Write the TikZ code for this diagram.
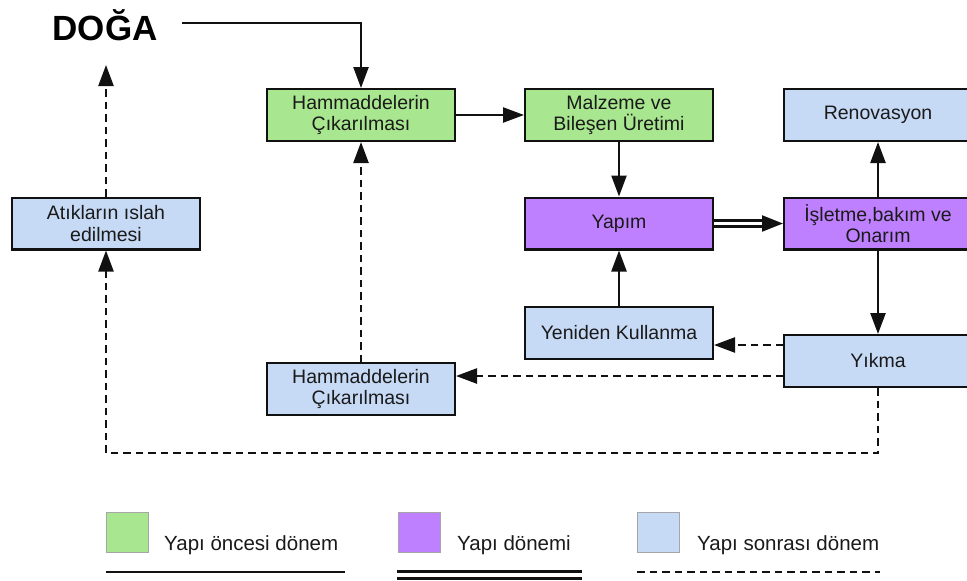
\documentclass[tikz,border=0pt]{standalone}
\usepackage{fontspec}
\setmainfont{Liberation Sans}
\usetikzlibrary{arrows.meta,calc}
\definecolor{pregreen}{HTML}{A8E690}
\definecolor{buildpurple}{HTML}{BF80FF}
\definecolor{postblue}{HTML}{C6D9F5}
\definecolor{edgecol}{HTML}{111111}
\definecolor{txtcol}{HTML}{1A1A1A}
\begin{document}
\begin{tikzpicture}[x=1pt,y=-1pt,
  box/.style={draw=edgecol, line width=2.4pt, minimum width=187.6pt, minimum height=51.6pt,
    inner sep=0pt, align=center, text=txtcol, font=\fontsize{19.5}{21.5}\selectfont},
  greenbox/.style={box, fill=pregreen},
  purplebox/.style={box, fill=buildpurple},
  bluebox/.style={box, fill=postblue},
  arr/.style={line width=2.4pt, draw=edgecol, -{Triangle[length=21pt,width=15pt]}},
  dasharr/.style={arr, dash pattern=on 7.5pt off 5pt},
  swatch/.style={draw=black!35, line width=0.8pt, minimum width=42pt, minimum height=40pt, inner sep=0pt},
  legtext/.style={anchor=west, inner sep=0pt, text=txtcol, font=\fontsize{20.5}{23}\selectfont}
]
\useasboundingbox (0,0) rectangle (967,581);
\fill[white] (0,0) rectangle (967,581);

% title
\node[inner sep=0pt, font=\bfseries\fontsize{35}{37}\selectfont] (doga) at (105,25) {DOĞA};

% boxes
\node[greenbox] (h1) at (361,115) {Hammaddelerin\\Çıkarılması};
\node[greenbox] (malz) at (619,115) {Malzeme ve\\Bileşen Üretimi};
\node[bluebox] (reno) at (878,115) {Renovasyon};
\node[purplebox] (yapim) at (619,223.5) {Yapım};
\node[purplebox] (isl) at (878,223.5) {İşletme,bakım ve\\Onarım};
\node[bluebox] (atik) at (106,223.5) {Atıkların ıslah\\edilmesi};
\node[bluebox] (yen) at (619,333) {Yeniden Kullanma};
\node[bluebox] (yik) at (878,361) {Yıkma};
\node[bluebox] (h2) at (361,389) {Hammaddelerin\\Çıkarılması};

% helper coordinates
\coordinate (dstart) at (182,23);
\coordinate (dogain) at (106,65);
\coordinate (bottom) at (106,453);

% solid connectors
\draw[arr] (dstart) -| (h1.north);
\draw[arr] (h1.east) -- (malz.west);
\draw[arr] (malz.south) -- (yapim.north);
\draw[arr] (isl.north) -- (reno.south);
\draw[arr] (isl.south) -- (yik.north);
\draw[arr] (yen.north) -- (yapim.south);

% double connector
\draw[line width=2.4pt, draw=edgecol, double=white, double distance=3.6pt, shorten >=18pt] (yapim.east) -- (isl.west);
\draw[arr, -{Triangle[length=21pt,width=16pt]}] ([xshift=-20pt]isl.west) -- (isl.west);

% dashed connectors
\draw[dasharr] ([yshift=16pt]yik.west) -- ([yshift=16pt]yik.west -| yen.east);
\draw[dasharr] ([yshift=-15pt]yik.west) -- ([yshift=-15pt]yik.west -| h2.east);
\draw[dasharr] (h2.north) -- (h1.south);
\draw[dasharr] (yik.south) |- (bottom) -- (atik.south);
\draw[dasharr] (atik.north) -- (dogain);

% legend
\node[swatch, fill=pregreen] (sw1) at (127,532) {};
\node[swatch, fill=buildpurple] (sw2) at (419,532) {};
\node[swatch, fill=postblue] (sw3) at (658.5,532) {};
\node[legtext] (lt1) at (164,545) {Yapı öncesi dönem};
\node[legtext] (lt2) at (457,545) {Yapı dönemi};
\node[legtext] (lt3) at (697,545) {Yapı sonrası dönem};
\coordinate (l1a) at (106,572); \coordinate (l1b) at (345,572);
\coordinate (l2a) at (397,571.5); \coordinate (l2b) at (582,571.5);
\coordinate (l2c) at (397,578.5); \coordinate (l2d) at (582,578.5);
\coordinate (l3a) at (637,572); \coordinate (l3b) at (880,572);
\draw[line width=2.4pt, draw=edgecol] (l1a) -- (l1b);
\draw[line width=2.4pt, draw=edgecol] (l2a) -- (l2b);
\draw[line width=2.4pt, draw=edgecol] (l2c) -- (l2d);
\draw[line width=2.4pt, draw=edgecol, dash pattern=on 7.5pt off 5pt] (l3a) -- (l3b);
\end{tikzpicture}
\end{document}
